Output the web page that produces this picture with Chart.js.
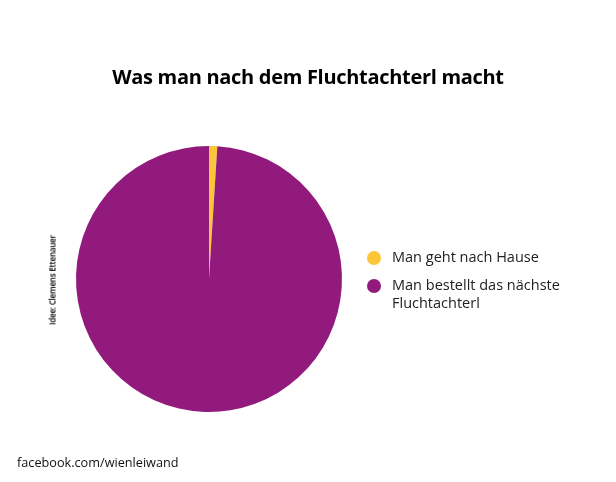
<!DOCTYPE html>
<html>
<head>
<meta charset="utf-8">
<script src="https://cdn.jsdelivr.net/npm/chart.js@4/dist/chart.umd.min.js"></script>
<style>
  body { margin: 0; background: #fff; }
  #wrap { position: relative; width: 616px; height: 482px; font-family: "Open Sans", sans-serif; color: #000; }
  #myChart { position: absolute; left: 0; top: 0; }
  #title { position: absolute; left: 0; width: 616px; top: 63px; text-align: center; font-weight: bold; font-size: 20px; letter-spacing: -0.3px; }
  #legend { position: absolute; left: 366px; top: 248px; font-size: 14.5px; color: #222; line-height: 18px; }
  .item { position: relative; padding-left: 26px; margin-bottom: 10px; }
  .dot { position: absolute; left: 1px; top: 3px; width: 14px; height: 14px; border-radius: 50%; }
  #idee { position: absolute; left: 52px; top: 280px; transform: translate(-50%, -50%) rotate(-90deg); font-size: 8px; color: #000; font-weight: 600; letter-spacing: -0.2px; white-space: nowrap; }
  #footer { position: absolute; left: 17px; top: 453px; font-size: 12.7px; color: #111; }
</style>
</head>
<body>
<div id="wrap">
  <canvas id="myChart" width="616" height="482"></canvas>
  <div id="title">Was man nach dem Fluchtachterl macht</div>
  <div id="legend"></div>
  <div id="idee">Idee: Clemens Ettenauer</div>
  <div id="footer">facebook.com/wienleiwand</div>
</div>
<script>
let labels = ["Man geht nach Hause", "Man bestellt das nächste Fluchtachterl"];
let legend_lines = [["Man geht nach Hause"], ["Man bestellt das nächste", "Fluchtachterl"]];
let values = [1, 99];
let colors = ['#FCC63A', '#921A7C'];

let legendBox = document.getElementById('legend');
for (let i = 0; i < labels.length; i++) {
  let item = document.createElement('div');
  item.className = 'item';
  item.innerHTML = '<span class="dot" style="background:' + colors[i] + '"></span>' + legend_lines[i].join('<br>');
  legendBox.appendChild(item);
}

const data = {
  labels: labels,
  datasets: [{
    data: values,
    backgroundColor: colors,
    borderWidth: 0
  }]
};

const config = {
  type: 'pie',
  data: data,
  options: {
    responsive: false,
    animation: false,
    layout: { padding: { left: 76, right: 274, top: 146, bottom: 70 } },
    plugins: {
      legend: { display: false },
      tooltip: { enabled: false }
    }
  }
};

const myChart = new Chart(document.getElementById('myChart'), config);
</script>
</body>
</html>
